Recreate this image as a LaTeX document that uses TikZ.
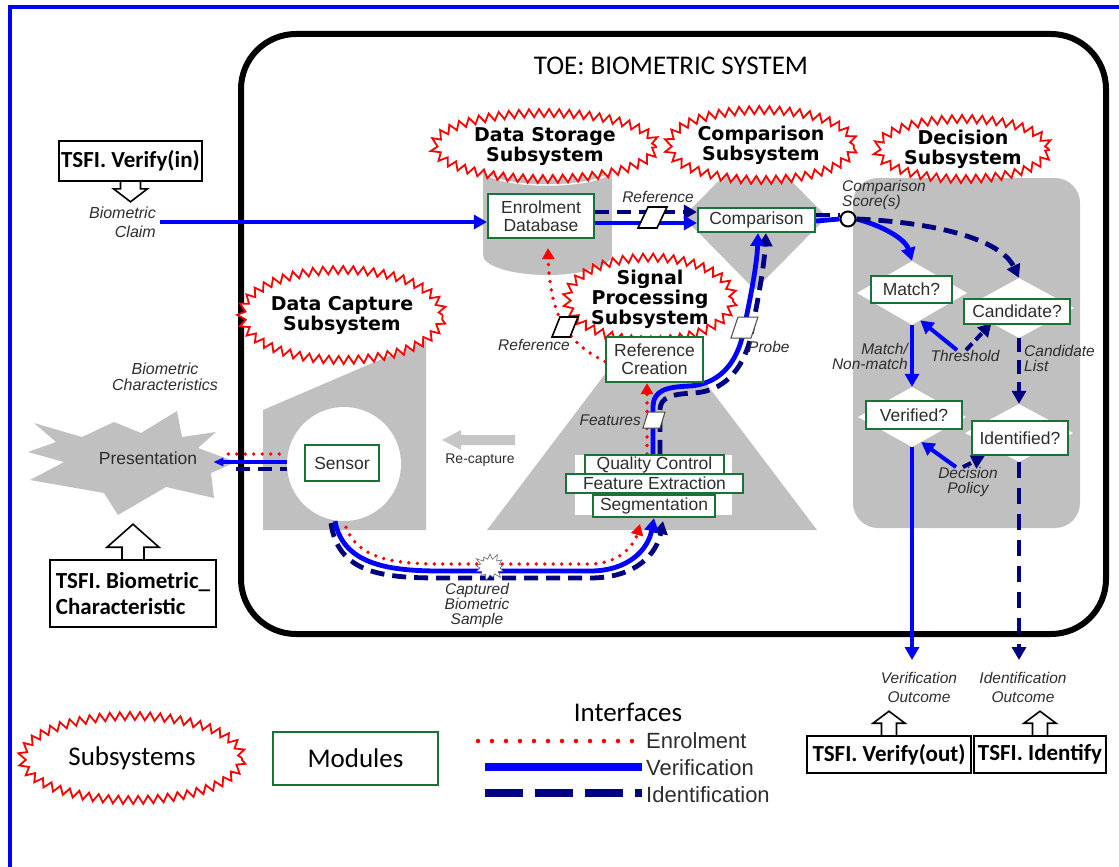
\documentclass[tikz,border=0pt]{standalone}
\usepackage{fontspec}
\setmainfont{Liberation Sans}
\newfontfamily\calfont{Carlito}
\newfontfamily\stfont{DejaVu Sans}
\usetikzlibrary{shapes.geometric,shapes.symbols,decorations.pathmorphing,arrows.meta,calc}
\pgfdeclarelayer{back}
\pgfdeclarelayer{lines}
\pgfdeclarelayer{front}
\pgfsetlayers{back,lines,main,front}
\definecolor{vblue}{RGB}{0,0,255}
\definecolor{navy}{RGB}{0,0,128}
\definecolor{mgreen}{RGB}{25,115,55}
\definecolor{gr}{RGB}{192,192,192}
\definecolor{txt}{RGB}{45,45,45}
\begin{document}
\begin{tikzpicture}[x=1pt,y=-1pt,
  sub/.style={ellipse, draw=red, fill=white, line width=1.8pt, decorate,
    decoration={zigzag,segment length=10pt,amplitude=4pt}, inner sep=0pt,
    align=center, font=\stfont\bfseries\fontsize{19}{20}\selectfont},
  mod/.style={draw=mgreen, fill=white, line width=2.2pt, inner sep=0pt,
    align=center, text=txt, font=\fontsize{17.5}{18.5}\selectfont},
  lbl/.style={font=\itshape\fontsize{15.5}{15}\selectfont, text=txt, inner sep=0pt, align=center},
  tsfi/.style={draw=black, line width=1.6pt, fill=white,
    font=\calfont\bfseries\fontsize{23}{26}\selectfont, inner sep=0pt},
  hollow/.style={draw=black, line width=1.6pt, line join=miter},
  ver/.style={draw=vblue, line width=4.8pt},
  idn/.style={draw=navy, line width=4.8pt, dash pattern=on 14pt off 8pt},
  enr/.style={draw=red, line width=3.8pt, line cap=round, dash pattern=on 0pt off 8.5pt},
  vtip/.style={-{Triangle[length=13pt,width=14pt]}},
  rtip/.style={-{Triangle[length=11pt,width=12pt]}},
  wdia/.style={diamond, fill=white, inner sep=0pt},
  paral/.style={draw=black, fill=white, line width=1.6pt},
  legtxt/.style={font=\fontsize{22}{22}\selectfont, text=txt, inner sep=0pt, anchor=west},
]
\useasboundingbox (0,0) rectangle (1119,867);

% ---------------- background shapes
\begin{pgfonlayer}{back}
\draw[vblue, line width=4pt] (10,7) rectangle (1150,900);
\draw[black, line width=6pt, rounded corners=55pt] (241,34) rectangle (1106,634);
% data storage cylinder
\fill[gr] (483,170) rectangle (612,255);
\fill[gr] (547.5,255) ellipse (64.5 and 20);
\draw[white, line width=1.5pt] (547.5,170) ellipse (63 and 15);
% comparison diamond
\node[diamond, fill=gr, inner sep=0pt, minimum width=144pt, minimum height=146pt] (compdia) at (755,217) {};
% decision panel
\node[fill=gr, rounded corners=25pt, minimum width=227pt, minimum height=350pt, inner sep=0pt] (decpanel) at (966.5,353) {};
% signal processing triangle
\fill[gr] (487,530) -- (817,530) -- (652,312) -- cycle;
% data capture shape
\fill[gr] (263,410) -- (426,340) -- (426,530) -- (263,530) -- cycle;
% presentation explosion
\fill[gr] (34,423) -- (82,437) -- (114,422) -- (141,433) -- (177,411) -- (182,437) -- (216,432) -- (198,448) -- (236,462) -- (211,473) -- (214,498) -- (166,487) -- (118,515) -- (104,493) -- (30,480) -- (64,462) -- (28,452) -- (56,442) -- cycle;
% re-capture arrow
\fill[gr!90] (442,440) -- (461,430) -- (461,435) -- (515,435) -- (515,445) -- (461,445) -- (461,450) -- cycle;
% white shapes
\node[circle, fill=white, minimum size=114pt, inner sep=0pt] (scirc) at (344,464) {};
\fill[white] (575,455) rectangle (732,515);
\node[wdia, minimum width=110pt, minimum height=64pt] (mdia) at (912,293) {};
\node[wdia, minimum width=110pt, minimum height=60pt] (cdia) at (1019,308) {};
\node[wdia, minimum width=108pt, minimum height=60pt] (vdia) at (912,417) {};
\node[wdia, minimum width=108pt, minimum height=58pt] (idia) at (1019,433) {};
\end{pgfonlayer}

% ---------------- nodes
\node[font=\calfont\fontsize{27}{27}\selectfont] (title) at (671,66) {TOE: BIOMETRIC SYSTEM};

\node[sub, minimum width=222pt, minimum height=66pt] (dstar) at (545,146) {Data Storage\\Subsystem};
\node[sub, minimum width=186pt, minimum height=70pt] (cstar) at (761,145) {Comparison\\Subsystem};
\node[sub, minimum width=172pt, minimum height=60pt] (decstar) at (963,149) {Decision\\Subsystem};
\node[sub, minimum width=146pt, minimum height=74pt] (spstar) at (650,299) {Signal\\Processing\\Subsystem};
\node[sub, minimum width=176pt, minimum height=90pt] (dcstar) at (342,315) {Data Capture\\Subsystem};

\node[mod, minimum width=106pt, minimum height=44pt] (enrol) at (541,216) {Enrolment\\Database};
\node[mod, minimum width=117pt, minimum height=24pt] (comp) at (756.5,220) {Comparison};
\node[mod, minimum width=97pt, minimum height=45pt] (rc) at (654.5,359.5) {Reference\\Creation};
\node[mod, minimum width=139pt, minimum height=19pt] (qc) at (654.5,464.5) {Quality Control};
\node[mod, minimum width=177pt, minimum height=19pt] (fe) at (654.5,483.5) {Feature Extraction};
\node[mod, minimum width=122pt, minimum height=22pt] (seg) at (654,506) {Segmentation};
\node[mod, minimum width=74pt, minimum height=36pt] (sensor) at (342,463) {Sensor};
\node[mod, minimum width=81pt, minimum height=27pt] (match) at (911.5,289.5) {Match?};
\node[mod, minimum width=106pt, minimum height=25pt] (cand) at (1017,311.5) {Candidate?};
\node[mod, minimum width=96pt, minimum height=28pt] (verif) at (914,415) {Verified?};
\node[mod, minimum width=96pt, minimum height=34pt] (ident) at (1020,438) {Identified?};

\node[circle, draw=black, fill=white, line width=2pt, minimum size=15pt, inner sep=0pt] (score) at (848,219) {};

% labels
\node[lbl, align=right, anchor=east, font=\itshape\fontsize{16}{19}\selectfont] (claimlbl) at (156,222) {Biometric\\Claim};
\node[lbl, font=\itshape\fontsize{16}{16}\selectfont] (charlbl) at (165,377) {Biometric\\Characteristics};
\node[font=\fontsize{17.5}{18}\selectfont, text=txt, inner sep=0pt] (pres) at (148,458) {Presentation};
\node[font=\fontsize{14}{14}\selectfont, text=txt, inner sep=0pt] (recap) at (480,460) {Re-capture};
\node[lbl] (caplbl) at (477,605) {Captured\\Biometric\\Sample};
\node[lbl] (reftop) at (658,197) {Reference};
\node[lbl] (refleft) at (534,345) {Reference};
\node[lbl, anchor=east] (featlbl) at (641,420) {Features};
\node[lbl, anchor=west] (probelbl) at (748,347) {Probe};
\node[lbl, align=left, anchor=west] (scorelbl) at (842,195) {Comparison\\Score(s)};
\node[lbl, align=right, anchor=east] (mnm) at (908,356) {Match/\\Non-match};
\node[lbl] (thr) at (965,356) {Threshold};
\node[lbl, align=left, anchor=west] (clist) at (1024,358) {Candidate\\List};
\node[lbl] (dpol) at (968,482) {Decision\\Policy};
\node[lbl, font=\itshape\fontsize{15.5}{19}\selectfont] (vout) at (919,687) {Verification\\Outcome};
\node[lbl, font=\itshape\fontsize{15.5}{19}\selectfont] (iout) at (1023,687) {Identification\\Outcome};

% TSFI boxes
\node[tsfi, minimum width=143pt, minimum height=40pt] (tin) at (130.5,161) {TSFI. Verify(in)};
\node[tsfi, minimum width=166pt, minimum height=67pt, align=left] (tbio) at (133,593.5) {TSFI. Biometric\_\\Characteristic};
\node[tsfi, minimum width=164pt, minimum height=37pt] (tout) at (889,754.5) {TSFI. Verify(out)};
\node[tsfi, minimum width=132pt, minimum height=37pt] (tid) at (1040,754.5) {TSFI. Identify};
\draw[hollow, shift={(tin.south)}] (-10,0) -- (-10,7) -- (-17,7) -- (0,20) -- (17,7) -- (10,7) -- (10,0);
\draw[hollow, shift={(tbio.north)}] (-11,0) -- (-11,-12) -- (-26,-12) -- (0,-35) -- (26,-12) -- (11,-12) -- (11,0);
\draw[hollow, shift={(tout.north)}] (-7.5,0) -- (-7.5,-12) -- (-16,-12) -- (0,-24) -- (16,-12) -- (7.5,-12) -- (7.5,0);
\draw[hollow, shift={(tid.north)}] (-7.5,0) -- (-7.5,-12) -- (-16,-12) -- (0,-24) -- (16,-12) -- (7.5,-12) -- (7.5,0);

% legend
\node[sub, minimum width=220pt, minimum height=84pt, font=\calfont\fontsize{27}{27}\selectfont] (legsub) at (132,758) {Subsystems};
\node[mod, minimum width=165pt, minimum height=53pt, font=\calfont\fontsize{27}{27}\selectfont, text=black] (legmod) at (355.5,758.5) {Modules};
\node[font=\calfont\fontsize{27}{27}\selectfont, inner sep=0pt] (legint) at (628,712) {Interfaces};
\node[legtxt] (lenr) at (646,741) {Enrolment};
\node[legtxt] (lver) at (646,768) {Verification};
\node[legtxt] (lidn) at (646,795) {Identification};
\coordinate (le1) at (478,741);
\coordinate (le2) at (485,767);
\coordinate (le3) at (485,793);
\coordinate (claim) at (160,222);
\coordinate (vend) at (913,660);
\coordinate (iend) at (1019,660);

% ---------------- connectors
\begin{pgfonlayer}{lines}
% legend
\draw[enr, line width=4.5pt, dash pattern=on 0pt off 14pt] (le1) -- ([xshift=-6pt]lenr.west);
\draw[ver, line width=8pt] (le2) -- ([xshift=-4pt]lver.west |- le2);
\draw[idn, line width=8pt, dash pattern=on 38pt off 12pt] (le3) -- ([xshift=-4pt]lidn.west |- le3);
% claim
\draw[ver, vtip] (claim) -- (claim -| enrol.west);
% enrolment -> comparison
\draw[idn, vtip] ([yshift=4pt]enrol.east) -- ([yshift=8pt]comp.west);
\draw[ver, vtip] ([yshift=-7pt]enrol.east) -- ([yshift=-3pt]comp.west);
% comparison -> score
\draw[idn] ([yshift=5pt]comp.east) -- ([yshift=4pt]score.west);
\draw[ver] ([yshift=-1pt]comp.east) -- (score.west);
% score -> match / candidate
\draw[ver, vtip] (score.east) .. controls (880,225) and (905,238) .. (mdia.north);
\draw[idn, vtip] (score.east) .. controls (930,222) and (1000,238) .. (cdia.north);
% match -> verified, candidate -> identified
\draw[ver, vtip] (mdia.south) -- (vdia.north);
\draw[idn, vtip] (cdia.south) -- (idia.north);
% threshold
\draw[ver, vtip, line width=4pt] ([xshift=-8pt]thr.north) -- ($(mdia.south)!0.15!(mdia.east)$);
\draw[idn, vtip, line width=4pt, dash pattern=on 9pt off 5pt] ([xshift=1pt]thr.north) -- ($(cdia.west)!0.5!(cdia.south)$);
% decision policy
\draw[ver, vtip, line width=4pt] ([xshift=-12pt]dpol.north) -- ($(vdia.south)!0.17!(vdia.east)$);
\draw[idn, vtip, line width=4pt, dash pattern=on 9pt off 5pt] ([xshift=-5pt]dpol.north) -- ($(ident.south west)!0.14!(ident.south east)$);
% outcomes
\draw[ver, vtip, line width=4pt] (vdia.south) -- (vdia.south |- vend);
\draw[idn, vtip, line width=4pt, dash pattern=on 16pt off 10pt] (idia.south) -- (idia.south |- iend);
% presentation <-> sensor
\draw[enr] ([xshift=31pt]pres.east |- 0,454) -- (scirc.west |- 0,454);
\draw[ver, {Triangle[length=10pt,width=8pt]}-] ([xshift=16pt]pres.east |- 0,462) -- (scirc.west |- 0,462);
\draw[idn] ([xshift=39pt]pres.east |- 0,469) -- (scirc.west |- 0,469);
% sensor -> segmentation
\draw[idn, vtip] ([xshift=-13pt,yshift=-2pt]scirc.south) .. controls (338,573) and (382,578) .. (440,578) -- (590,578) .. controls (638,578) and (657,552) .. ([xshift=9pt,yshift=-3pt]seg.south);
\draw[ver, vtip] ([xshift=-9pt]scirc.south) .. controls (343,563) and (385,571) .. (440,571) -- (590,571) .. controls (628,571) and (648,550) .. (seg.south);
\draw[enr, rtip] ([xshift=2pt,yshift=-6pt]scirc.south) .. controls (358,558) and (392,564) .. (440,564) -- (590,564) .. controls (618,564) and (634,546) .. ([xshift=-14pt,yshift=-6pt]seg.south);
% QC -> reference creation / comparison
\draw[enr, rtip] ([xshift=-7.5pt]qc.north) -- ([xshift=-7.5pt]qc.north |- rc.south);
\draw[idn, vtip] ([xshift=5.5pt]qc.north) -- (660,410) .. controls (660,397) and (672,394) .. (694,393) .. controls (724,391) and (742,370) .. (750,340) .. controls (757,305) and (764,268) .. ([xshift=9.5pt]comp.south);
\draw[ver, vtip] ([xshift=-1.5pt]qc.north) -- (653,408) .. controls (653,390) and (666,387) .. (690,386) .. controls (718,384) and (735,365) .. (742,338) .. controls (750,300) and (757,265) .. ([xshift=1.5pt]comp.south);
% reference creation -> enrolment database
\draw[enr, rtip] ([yshift=-2pt]rc.west) .. controls (572,345) and (550,322) .. ([xshift=7pt,yshift=-9pt]enrol.south);
\end{pgfonlayer}

% ---------------- front details
\begin{pgfonlayer}{front}
\draw[paral] (648,207) -- (667,207) -- (657,228) -- (638,228) -- cycle;
\draw[paral] (560,317) -- (578,317) -- (570,337) -- (552,337) -- cycle;
\draw[paral, line width=1pt, draw=black!70] (648,412) -- (665,412) -- (660,428) -- (643,428) -- cycle;
\draw[paral, line width=1pt, draw=black!70] (738,317) -- (758,317) -- (751,338) -- (731,338) -- cycle;
\node[starburst, starburst points=13, starburst point height=7pt, fill=white, draw=black!60, line width=0.6pt, minimum width=34pt, minimum height=30pt, inner sep=0pt] (sample) at (490,567) {};
\end{pgfonlayer}
\end{tikzpicture}
\end{document}
